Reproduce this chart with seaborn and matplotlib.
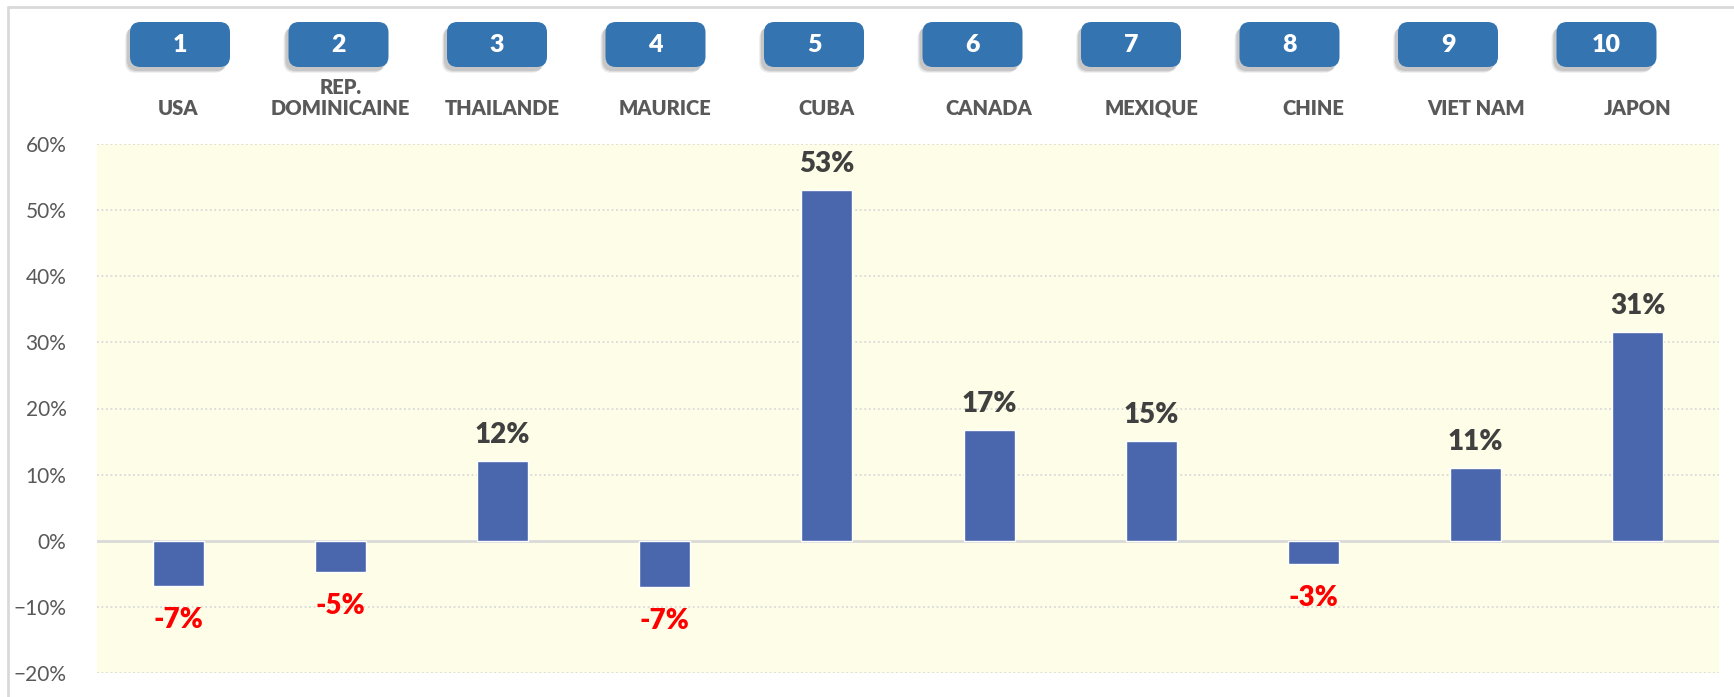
import pandas as pd
import numpy as np
import matplotlib.pyplot as plt
import seaborn as sns
from matplotlib.patches import FancyBboxPatch
from matplotlib.lines import Line2D
from matplotlib.ticker import PercentFormatter

# donnees
pays = ["USA", "REP.\nDOMINICAINE", "THAILANDE", "MAURICE", "CUBA",
        "CANADA", "MEXIQUE", "CHINE", "VIET NAM", "JAPON"]
rangs = ["1", "2", "3", "4", "5", "6", "7", "8", "9", "10"]
evolution = [-0.068, -0.047, 0.12, -0.070, 0.53, 0.167, 0.151, -0.035, 0.11, 0.315]
etiquettes = ["-7%", "-5%", "12%", "-7%", "53%", "17%", "15%", "-3%", "11%", "31%"]
yticks = [-0.2, -0.1, 0.0, 0.1, 0.2, 0.3, 0.4, 0.5, 0.6]

df = pd.DataFrame({"pays": pays, "evolution": evolution})

sns.set_style("white")
plt.rcParams["font.family"] = ["Lato", "DejaVu Sans"]

fig = plt.figure(figsize=(17.34, 6.97), dpi=100)
W, H = 1734, 697
ax = fig.add_axes([97 / W, 24 / H, 1622 / W, 529 / H])
ax.set_facecolor("#FEFEE8")

sns.barplot(data=df, x="pays", y="evolution", color="#4A66AC", saturation=1,
            width=0.315, ax=ax, zorder=3)

ax.set_ylim(-0.2, 0.6)
ax.set_xlim(-0.5, len(pays) - 0.5)
ax.set_yticks(yticks)
ax.yaxis.set_major_formatter(PercentFormatter(1.0, decimals=0))
ax.tick_params(axis="y", length=0, pad=22, labelsize=15, labelcolor="#595959")

# categories en haut
ax.xaxis.tick_top()
ax.tick_params(axis="x", length=0, pad=19, labelsize=14.5, labelcolor="#595959")
for t in ax.get_xticklabels():
    t.set_fontweight("heavy")
    t.set_linespacing(1.1)
ax.set_xlabel("")
ax.set_ylabel("")

for s in ax.spines.values():
    s.set_visible(False)

# grille
for y in yticks:
    if y == 0:
        ax.axhline(y, color="#D9D9D9", lw=2, zorder=2)
    else:
        ax.axhline(y, color="#D9D9D9", lw=1.3, ls=(0, (1, 1.5)), zorder=1)

# etiquettes des barres
for i, v in enumerate(evolution):
    if v >= 0:
        ax.annotate(etiquettes[i], (i, v), xytext=(0, 9.5), textcoords="offset points",
                    ha="center", va="bottom", fontsize=20, fontweight="heavy",
                    color="#404040")
    else:
        ax.annotate(etiquettes[i], (i, v), xytext=(0, -15), textcoords="offset points",
                    ha="center", va="top", fontsize=20, fontweight="heavy",
                    color="#FF0000")

# pastilles numerotees
for i, r in enumerate(rangs):
    cx = 180 + i * 158.5
    bw, bh = 100, 45
    x0 = (cx - bw / 2) / W
    y0 = (H - 22 - bh) / H
    for k, a in [(5, 0.06), (4, 0.08), (3, 0.1)]:
        ombre = FancyBboxPatch((x0 - k / W, y0 - (k + 1) / H), bw / W, bh / H,
                               boxstyle="round,pad=0,rounding_size=0.006",
                               transform=fig.transFigure, fc="#000000", ec="none",
                               alpha=a, mutation_aspect=W / H)
        fig.patches.append(ombre)
    p = FancyBboxPatch((x0, y0), bw / W, bh / H,
                       boxstyle="round,pad=0,rounding_size=0.006",
                       transform=fig.transFigure, fc="#3474B0", ec="none",
                       mutation_aspect=W / H)
    fig.patches.append(p)
    fig.text(cx / W, y0 + bh / H / 2, r, ha="center", va="center",
             fontsize=18, fontweight="heavy", color="white")

# cadre
fig.add_artist(Line2D([8 / W, 1], [1 - 7 / H, 1 - 7 / H], transform=fig.transFigure,
                      color="#D9D9D9", lw=2))
fig.add_artist(Line2D([8 / W, 8 / W], [0, 1 - 7 / H], transform=fig.transFigure,
                      color="#D9D9D9", lw=2))

plt.savefig("out.png", dpi=100)
